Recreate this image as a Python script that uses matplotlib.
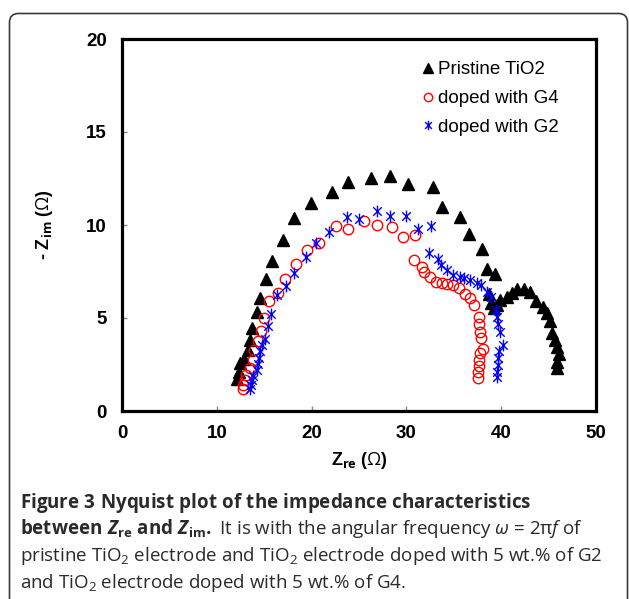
import matplotlib
matplotlib.use("Agg")
import matplotlib.pyplot as plt
from matplotlib.path import Path
from matplotlib.patches import FancyBboxPatch
from matplotlib.transforms import IdentityTransform

# ---------------- data ----------------
pristine_x = [12.1, 12.3, 12.4, 12.9, 13.3, 13.5, 13.75, 14.2, 14.55, 15.2, 15.85, 16.95, 18.15,
              19.95, 22.1, 23.8, 26.3, 28.3, 30.2, 32.8, 33.8, 35.65, 36.6, 38.0, 38.45, 39.35,
              38.7, 38.9, 39.2, 39.6, 39.9, 40.6, 41.1, 41.7, 42.4, 43.0, 43.7, 44.4, 44.8, 45.15,
              45.4, 45.7, 45.85, 46.1, 45.9, 45.85]
pristine_y = [1.7, 2.1, 2.6, 2.8, 3.3, 3.8, 4.45, 5.3, 6.05, 7.1, 8.05, 9.2, 10.35,
              11.2, 11.8, 12.3, 12.5, 12.65, 12.2, 12.05, 10.95, 10.45, 9.5, 8.7, 7.65, 7.35,
              6.3, 5.8, 5.55, 5.7, 5.95, 6.15, 6.35, 6.55, 6.55, 6.4, 5.9, 5.6, 5.25, 4.85,
              4.2, 3.8, 3.45, 3.05, 2.65, 2.3]

g4_x = [12.8, 12.75, 12.95, 13.1, 13.5, 13.8, 13.95, 14.3, 14.65, 15.0, 15.55, 16.5, 17.2, 18.35,
        19.5, 20.8, 22.55, 23.8, 25.5, 26.85, 28.5, 29.6, 30.95, 30.8, 31.6, 31.9, 32.5, 33.1,
        33.8, 34.25, 34.9, 35.6, 36.2, 36.7, 37.1, 37.7, 37.7, 37.75, 37.9, 38.1, 37.75, 37.7,
        37.65, 37.6, 37.55]
g4_y = [1.2, 1.4, 1.65, 1.95, 2.3, 2.75, 3.3, 3.75, 4.3, 5.0, 5.9, 6.35, 7.1, 7.9,
        8.65, 9.05, 9.95, 9.8, 10.2, 10.0, 9.9, 9.35, 9.45, 8.1, 7.75, 7.45, 7.2, 6.95,
        6.9, 6.85, 6.75, 6.6, 6.3, 6.05, 5.7, 5.05, 4.7, 4.25, 3.9, 3.35, 3.1, 2.75,
        2.4, 2.1, 1.75]

g2_x = [13.5, 13.6, 13.7, 13.8, 14.2, 14.3, 14.45, 14.6, 14.8, 15.1, 15.4, 15.7, 16.4, 17.35,
        18.1, 19.4, 20.5, 21.85, 23.7, 25.0, 26.9, 28.25, 30.0, 31.25, 32.6, 32.4, 33.3, 33.65,
        34.25, 34.95, 35.65, 36.1, 36.7, 37.4, 37.9, 38.5, 38.95, 39.5, 39.6, 39.7, 39.9, 40.15,
        39.8, 39.7, 39.65, 39.6, 39.6]
g2_y = [1.2, 1.4, 1.65, 1.9, 2.2, 2.55, 2.85, 3.2, 3.55, 3.85, 4.55, 5.2, 6.25, 6.7,
        7.4, 8.3, 9.05, 9.6, 10.45, 10.3, 10.75, 10.5, 10.5, 9.8, 9.95, 8.5, 8.15, 7.85,
        7.6, 7.3, 7.2, 7.15, 7.05, 6.9, 6.75, 6.4, 6.15, 5.45, 5.05, 4.7, 4.25, 3.55,
        3.2, 2.85, 2.5, 2.1, 1.85]

series_labels = ["Pristine TiO2", "doped with G4", "doped with G2"]
x_ticks = [0, 10, 20, 30, 40, 50]
y_ticks = [0, 5, 10, 15, 20]

# ---------------- style ----------------
plt.rcParams['mathtext.fontset'] = 'custom'
plt.rcParams['mathtext.rm'] = 'Open Sans'
plt.rcParams['mathtext.it'] = 'Open Sans:italic'
plt.rcParams['mathtext.bf'] = 'Open Sans:bold'
plt.rcParams['mathtext.bfit'] = 'Open Sans:bold:italic'

W, H = 629, 599
fig = plt.figure(figsize=(W / 100, H / 100), dpi=100)
ax = fig.add_axes([122 / W, 1 - 411 / H, (596 - 122) / W, (411 - 39) / H])

star = Path([(0, -1), (0, 1), (-0.72, -0.72), (0.72, 0.72), (-0.72, 0.72), (0.72, -0.72)],
            [Path.MOVETO, Path.LINETO, Path.MOVETO, Path.LINETO, Path.MOVETO, Path.LINETO])

ax.plot(pristine_x, pristine_y, linestyle='none', marker='^', ms=8.5, color='black',
        label=series_labels[0])
ax.plot(g4_x, g4_y, linestyle='none', marker='o', ms=7.5, mfc='none', mec='#ff0000',
        mew=1.0, label=series_labels[1])
ax.plot(g2_x, g2_y, linestyle='none', marker=star, ms=8.5, color='#0000ff', mew=1.0,
        label=series_labels[2])

ax.set_xlim(0, 50)
ax.set_ylim(0, 20)
ax.set_xticks(x_ticks)
ax.set_yticks(y_ticks)
for s in ax.spines.values():
    s.set_linewidth(2.3)
    s.set_color('black')
ax.tick_params(axis='both', direction='in', length=3.5, width=1, color='#888888',
               labelsize=13.5)
ax.tick_params(axis='x', pad=10)
ax.tick_params(axis='y', pad=11)
for lab in ax.get_xticklabels() + ax.get_yticklabels():
    lab.set_fontfamily('Liberation Sans')
    lab.set_fontweight('bold')

ax.set_xlabel(r'Z$_{\mathbf{re}}$ ($\mathrm{\Omega}$)', fontfamily='Liberation Sans',
              fontweight='bold', fontsize=13, labelpad=6)
ax.set_ylabel(r'- Z$_{\mathbf{im}}$ ($\mathrm{\Omega}$)', fontfamily='Liberation Sans',
              fontweight='bold', fontsize=13, labelpad=22)

leg = ax.legend(loc='upper left', bbox_to_anchor=(0.634, 0.94), frameon=False,
                prop={'family': 'Liberation Sans', 'size': 13.5},
                handlelength=0.6, handletextpad=0.2, labelspacing=0.62,
                borderaxespad=0, borderpad=0, markerscale=0.8)

# border
border = FancyBboxPatch((9.5, -40), 618, 599 - 13.5 + 40,
                        boxstyle="round,pad=0,rounding_size=9",
                        transform=IdentityTransform(), fill=False,
                        edgecolor='#3a3a3a', linewidth=1.2)
fig.patches.append(border)

# caption
cap_fs = 13.5
cx = 20 / W
lines = [
    (r'$\mathbf{Figure\ 3\ Nyquist\ plot\ of\ the\ impedance\ characteristics}$', 508),
    (r'$\mathbf{between}\ \mathbfit{Z}_{\mathbf{re}}\ \mathbf{and}\ \mathbfit{Z}_{\mathbf{im}}\mathbf{.}\ $'
     r'It is with the angular frequency $\mathit{\omega}$ = 2$\mathrm{\pi}\mathit{f}$ of', 534),
    (r'pristine TiO$_{2}$ electrode and TiO$_{2}$ electrode doped with 5 wt.% of G2', 561),
    (r'and TiO$_{2}$ electrode doped with 5 wt.% of G4.', 588),
]
for txt, yb in lines:
    fig.text(cx, 1 - yb / H, txt, fontfamily='Open Sans', fontsize=cap_fs,
             color='#2a2a2a', va='baseline', ha='left')

fig.savefig('out.png', dpi=100)
